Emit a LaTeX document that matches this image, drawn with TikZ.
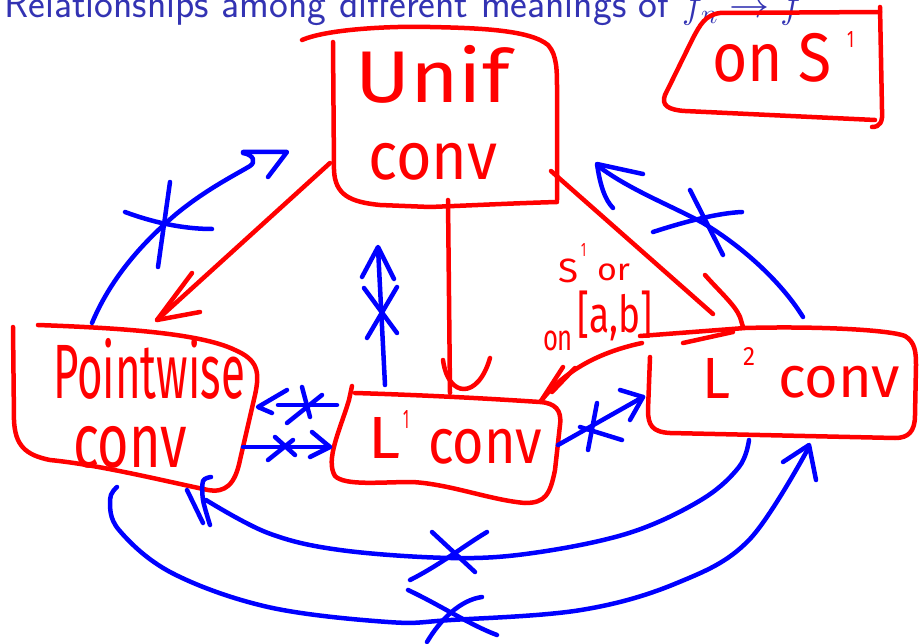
\RequirePackage{fix-cm}
\documentclass[tikz,border=0pt]{standalone}
\usepackage{graphicx}
\usepackage{fontspec}
\newfontfamily\hand{Fira Sans}
\definecolor{inkred}{RGB}{255,0,0}
\definecolor{inkblue}{RGB}{0,0,255}
\definecolor{titleblue}{RGB}{51,51,179}
% handwritten word squeezed into a given width and height (in pt)
\newcommand{\hw}[3]{\resizebox*{#1pt}{#2pt}{\hand #3}}
\begin{document}
\begin{tikzpicture}[x=1pt,y=-1pt,line cap=round,line join=round,
  redink/.style={draw=inkred,line width=4.5pt},
  blueink/.style={draw=inkblue,line width=4.5pt},
  word/.style={inner sep=0pt,outer sep=0pt,anchor=base west,text=inkred},
  midword/.style={inner sep=0pt,outer sep=0pt,anchor=center,text=inkred}]
\useasboundingbox (0,0) rectangle (920,644);
\clip (0,0) rectangle (920,644);

% title
\node[anchor=base west,inner sep=0pt,text=titleblue,font=\sffamily\fontsize{40}{40}\selectfont]
  (title) at (4,18) {Relationships among different meanings of $f_n \to f$};

% ---------- words ----------
\node[word] (unif)  at (355,103) {\hw{155}{58}{Unif}};
\node[word] (uconv) at (368,180) {\hw{129}{37}{conv}};
\node[word] (onS)   at (712,82)  {\hw{120}{49}{on S}};
\node[word] (onSsup) at (847,48) {\hw{7}{16}{1}};
\node[word] (pw)    at (53,398)  {\hw{192}{61}{Pointwise}};
\node[word] (pconv) at (73,467)  {\hw{114}{42}{conv}};
\node[word] (Lone)  at (368,458) {\hw{32}{41}{L}};
\node[word] (Lonesup) at (403,428) {\hw{6}{18}{1}};
\node[word] (Loneconv) at (428,463) {\hw{114}{35}{conv}};
\node[word] (Ltwo)  at (702,398) {\hw{28}{40}{L}};
\node[word] (Ltwosup) at (743,365) {\hw{12}{18}{2}};
\node[word] (Ltwoconv) at (778,397) {\hw{122}{32}{conv}};
\node[word] (cS)    at (558,282) {\hw{20}{24}{S}};
\node[word] (cSsup) at (581,257) {\hw{5}{13}{1}};
\node[word] (cor)   at (597,280) {\hw{33}{17}{or}};
\node[word] (con)   at (543,350) {\hw{30}{20}{on}};
\node[midword] (cab) at (615,316) {\hw{75}{50}{[a,b]}};

% ---------- red frames ----------
% uniform convergence frame
\draw[redink] (302,40) .. controls (330,28) and (400,26) .. (430,27)
  .. controls (480,28) and (530,30) .. (548,45)
  .. controls (557,55) and (557,70) .. (557,90) -- (557,200);
\draw[redink] (333,42) -- (334,170) .. controls (335,195) and (350,202) .. (380,205)
  -- (430,207) .. controls (480,205) and (520,203) .. (557,202);
% "on S^1" frame
\draw[redink] (880,12) -- (720,13) .. controls (705,15) and (700,25) .. (693,38)
  -- (665,95) .. controls (661,105) and (668,110) .. (685,111) -- (875,120);
\draw[redink] (880,7) -- (882,110) .. controls (883,122) and (880,127) .. (872,127);
% pointwise frame
\draw[redink] (38,325) .. controls (120,328) and (200,333) .. (235,350)
  .. controls (258,360) and (260,372) .. (255,395) -- (240,460)
  .. controls (235,485) and (225,493) .. (208,490)
  .. controls (160,480) and (100,465) .. (50,460)
  .. controls (25,455) and (15,445) .. (14,420) -- (13,327);
% L^1 frame
\draw[redink] (352,386) -- (349,400) .. controls (340,430) and (325,460) .. (335,476)
  .. controls (345,486) and (380,482) .. (412,482)
  .. controls (450,484) and (490,500) .. (525,503)
  .. controls (545,503) and (550,495) .. (555,470) -- (560,425)
  .. controls (562,410) and (555,403) .. (540,402)
  .. controls (480,398) and (420,395) .. (355,393);
% L^2 frame
\draw[redink] (650,357) -- (648,410) .. controls (648,425) and (652,432) .. (670,433)
  -- (895,438) .. controls (908,438) and (915,432) .. (915,415) -- (916,365)
  .. controls (916,352) and (915,342) .. (905,336)
  .. controls (890,330) and (820,326) .. (745,328) -- (640,336);

% ---------- red implications ----------
\coordinate (uPw) at (157,320);
\draw[redink] (330,163) -- (uPw);
\draw[redink] (192,273) -- (uPw) -- (200,312);
\coordinate (uL1) at (450,393);
\draw[redink] (448,200) -- (uL1);
\draw[redink] (443,360) .. controls (448,398) and (478,400) .. (490,358);
\coordinate (uL2) at (743,327);
\draw[redink] (551,171) -- (713,314);
\draw[redink] (705,275) .. controls (720,292) and (735,305) .. (740,317) -- (uL2);
\draw[redink] (683,343) -- (733,332);
\coordinate (l2l1) at (541,401);
\draw[redink] (642,343) .. controls (600,352) and (565,370) .. (l2l1);
\draw[redink] (563,367) -- (l2l1);
\draw[redink] (575,368) -- (552,392);

% ---------- blue (non-)implications ----------
% pointwise -> uniform, crossed
\draw[blueink] (92,323) .. controls (110,280) and (140,245) .. (175,215)
  .. controls (205,190) and (235,175) .. (250,166)
  .. controls (256,162) and (254,155) .. (243,153);
\draw[blueink] (243,152) -- (287,152) -- (268,177);
\draw[blueink] (170,182) -- (158,267);
\draw[blueink] (125,212) .. controls (160,225) and (190,229) .. (212,229);
% L^2 -> uniform, crossed
\draw[blueink] (803,317) .. controls (780,280) and (740,245) .. (703,223)
  .. controls (670,205) and (630,190) .. (598,166);
\draw[blueink] (643,174) -- (597,164) .. controls (600,185) and (605,200) .. (613,208);
\draw[blueink] (690,190) -- (723,255);
\draw[blueink] (653,232) .. controls (690,220) and (720,213) .. (742,212);
% L^1 -> uniform, crossed
\draw[blueink] (385,385) -- (378,248);
\draw[blueink] (362,277) -- (378,247) -- (394,279);
\draw[blueink] (364,288) -- (397,333);
\draw[blueink] (397,287) -- (367,338);
% L^1 -> pointwise, crossed
\draw[blueink] (337,405) -- (278,405);
\draw[blueink] (287,390) -- (258,407) -- (272,413);
\draw[blueink] (302,387) -- (310,417);
\draw[blueink] (287,423) -- (322,395);
% pointwise -> L^1, crossed
\draw[blueink] (243,447) -- (330,447);
\draw[blueink] (312,432) -- (330,447) -- (310,457);
\draw[blueink] (275,437) -- (295,455);
\draw[blueink] (268,460) -- (293,440);
% L^1 -> L^2, crossed
\draw[blueink] (558,445) -- (643,397);
\draw[blueink] (620,390) -- (643,397) -- (630,420);
\draw[blueink] (597,403) -- (588,450);
\draw[blueink] (580,427) -- (622,440);
% L^2 -> pointwise, crossed
\draw[blueink] plot[smooth,tension=0.6] coordinates {(749,440) (739,467) (701,500) (629,533)
  (533,553) (451,558) (340,550) (268,533) (206,500)};
\draw[blueink] plot[smooth] coordinates {(211,477) (203,481) (203,500) (210,525)};
\draw[blueink] (187,490) -- (203,523);
\draw[blueink] (432,532) -- (475,572);
\draw[blueink] (410,580) .. controls (440,565) and (465,545) .. (487,532);
% pointwise -> L^2, crossed
\draw[blueink] plot[smooth,tension=0.6] coordinates {(117,487) (110,500) (119,530) (172,573)
  (268,607) (388,622) (451,620) (581,610) (677,583) (749,540) (809,447)};
\draw[blueink] (783,462) -- (809,445) -- (816,480);
\draw[blueink] (408,590) .. controls (440,605) and (470,625) .. (497,635);
\draw[blueink] (427,642) .. controls (440,620) and (460,600) .. (482,597);
\end{tikzpicture}
\end{document}
